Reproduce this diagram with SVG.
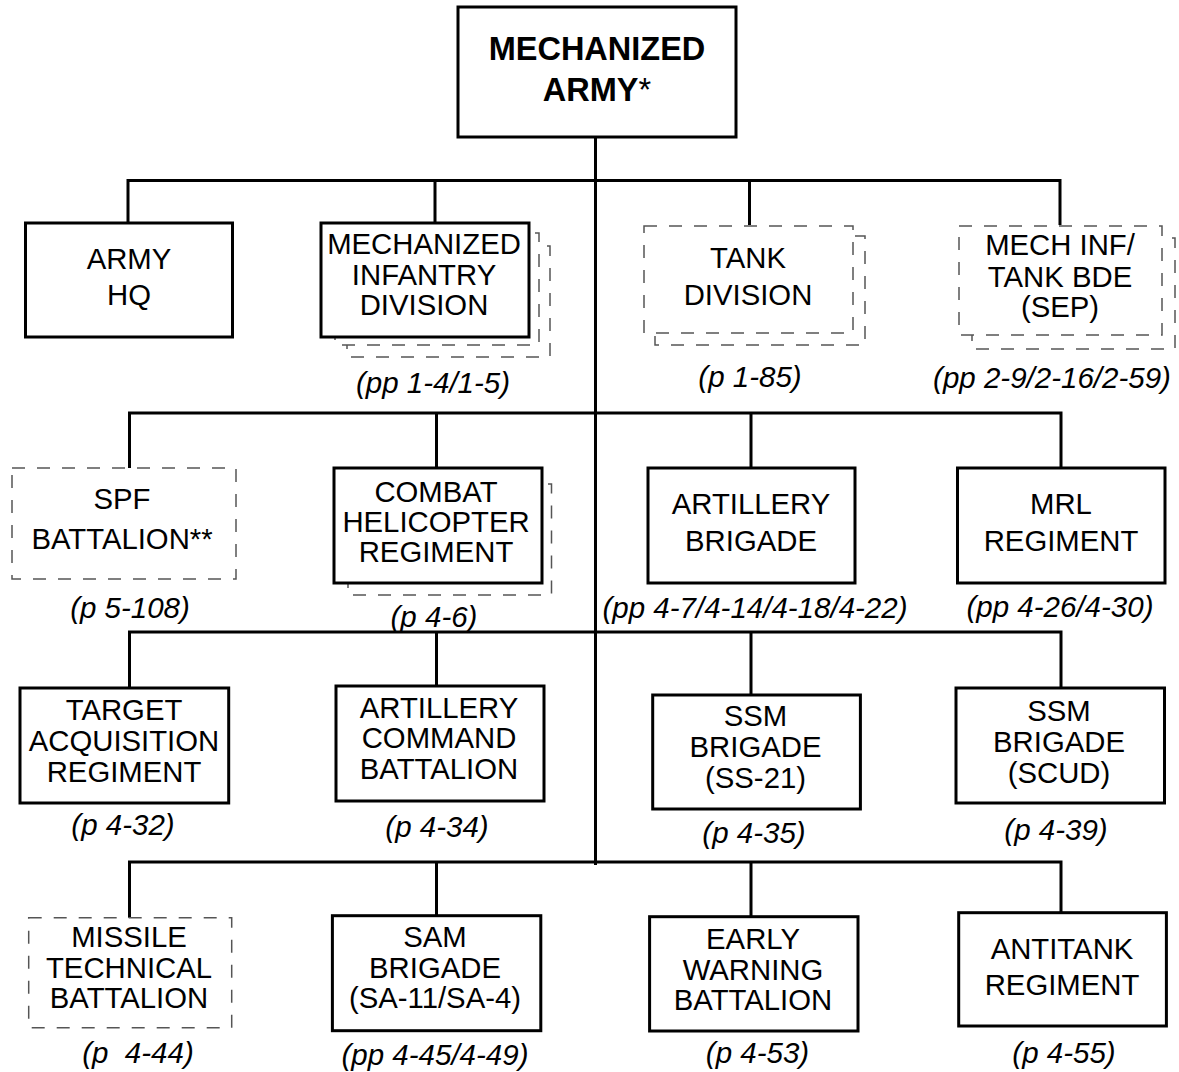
<svg xmlns="http://www.w3.org/2000/svg" width="1179" height="1072" viewBox="0 0 1179 1072">
<style>
.box{fill:#fff;stroke:#000;stroke-width:3}
.dash{fill:#fff;stroke:#555;stroke-width:1.5;stroke-dasharray:13 12}
.con{fill:none;stroke:#000;stroke-width:3}
text{font-family:"Liberation Sans",Arial,sans-serif;fill:#000;text-anchor:middle}
.t{font-size:29.3px}
.lbl{font-size:29.5px;font-style:italic;white-space:pre}
.top{font-size:32.5px;font-weight:bold}
</style>
<rect width="1179" height="1072" fill="#fff"/>
<g id="connectors">
<path class="con" d="M595.5 137V865"/>
<path class="con" d="M128 222V180.5H1060V225M435 180.5V222M749.5 180.5V225"/>
<path class="con" d="M129.5 468V413H1061V468M436.5 413V468M751 413V468"/>
<path class="con" d="M129.5 688V632H1061V688M436.5 632V686M751 632V695"/>
<path class="con" d="M129.5 918V862H1061V913M436.5 862V916M751 862V917"/>
</g>
<g id="army">
<rect class="box" x="458" y="7" width="278" height="130"/>
<text class="top" x="597" y="60">MECHANIZED</text>
<text class="top" x="597" y="101">ARMY<tspan font-weight="normal">*</tspan></text>
</g>
<g id="army-hq">
<rect class="box" x="25.5" y="223" width="207" height="114"/>
<text class="t" x="129" y="269">ARMY</text>
<text class="t" x="129" y="305">HQ</text>
</g>
<g id="mech-inf-div">
<rect class="dash" x="347" y="246" width="203" height="111"/>
<rect class="dash" x="335" y="233" width="204" height="112"/>
<rect class="box" x="321" y="223" width="208" height="114"/>
<text class="t" x="424" y="254">MECHANIZED</text>
<text class="t" x="424" y="285">INFANTRY</text>
<text class="t" x="424" y="315">DIVISION</text>
<text class="lbl" x="433" y="393">(pp 1-4/1-5)</text>
</g>
<g id="tank-div">
<rect class="dash" x="655" y="236" width="210" height="109"/>
<rect class="dash" x="644" y="226" width="209" height="107"/>
<text class="t" x="748" y="268">TANK</text>
<text class="t" x="748" y="305">DIVISION</text>
<text class="lbl" x="750" y="387">(p 1-85)</text>
</g>
<g id="mech-inf-tank-bde">
<rect class="dash" x="972" y="238" width="203" height="111"/>
<rect class="dash" x="959" y="226" width="203" height="109"/>
<text class="t" x="1060" y="255">MECH INF/</text>
<text class="t" x="1060" y="287">TANK BDE</text>
<text class="t" x="1060" y="317">(SEP)</text>
<text class="lbl" x="1052" y="388">(pp 2-9/2-16/2-59)</text>
</g>
<g id="spf-bn">
<rect class="dash" x="12" y="468" width="224" height="111"/>
<text class="t" x="122" y="509">SPF</text>
<text class="t" x="122" y="549">BATTALION**</text>
<text class="lbl" x="130" y="618">(p 5-108)</text>
</g>
<g id="combat-heli">
<rect class="dash" x="348" y="484" width="203.5" height="111"/>
<rect class="box" x="334" y="468" width="208" height="115"/>
<text class="t" x="436" y="502">COMBAT</text>
<text class="t" x="436" y="532">HELICOPTER</text>
<text class="t" x="436" y="562">REGIMENT</text>
<text class="lbl" x="434" y="627">(p 4-6)</text>
</g>
<g id="arty-bde">
<rect class="box" x="648" y="468" width="207" height="115"/>
<text class="t" x="751" y="514">ARTILLERY</text>
<text class="t" x="751" y="551">BRIGADE</text>
<text class="lbl" x="755" y="618">(pp 4-7/4-14/4-18/4-22)</text>
</g>
<g id="mrl-regt">
<rect class="box" x="957.5" y="468" width="207.5" height="115"/>
<text class="t" x="1061" y="514">MRL</text>
<text class="t" x="1061" y="551">REGIMENT</text>
<text class="lbl" x="1060" y="617">(pp 4-26/4-30)</text>
</g>
<g id="target-acq">
<rect class="box" x="20" y="688" width="208.7" height="115"/>
<text class="t" x="124" y="720">TARGET</text>
<text class="t" x="124" y="751">ACQUISITION</text>
<text class="t" x="124" y="782">REGIMENT</text>
<text class="lbl" x="123" y="835">(p 4-32)</text>
</g>
<g id="arty-cmd">
<rect class="box" x="336" y="686" width="208" height="115"/>
<text class="t" x="439" y="718">ARTILLERY</text>
<text class="t" x="439" y="748">COMMAND</text>
<text class="t" x="439" y="779">BATTALION</text>
<text class="lbl" x="437" y="837">(p 4-34)</text>
</g>
<g id="ssm-ss21">
<rect class="box" x="652.7" y="695" width="207.7" height="114"/>
<text class="t" x="755.5" y="726">SSM</text>
<text class="t" x="755.5" y="757">BRIGADE</text>
<text class="t" x="755.5" y="788">(SS-21)</text>
<text class="lbl" x="754" y="843">(p 4-35)</text>
</g>
<g id="ssm-scud">
<rect class="box" x="956" y="688" width="208.5" height="115"/>
<text class="t" x="1059" y="721">SSM</text>
<text class="t" x="1059" y="752">BRIGADE</text>
<text class="t" x="1059" y="783">(SCUD)</text>
<text class="lbl" x="1056" y="840">(p 4-39)</text>
</g>
<g id="missile-tech">
<rect class="dash" x="28.7" y="917.7" width="203" height="110"/>
<text class="t" x="129" y="947">MISSILE</text>
<text class="t" x="129" y="978">TECHNICAL</text>
<text class="t" x="129" y="1008">BATTALION</text>
<text class="lbl" x="138" y="1063" xml:space="preserve">(p  4-44)</text>
</g>
<g id="sam-bde">
<rect class="box" x="332.4" y="915.7" width="208.4" height="115"/>
<text class="t" x="435" y="947">SAM</text>
<text class="t" x="435" y="978">BRIGADE</text>
<text class="t" x="435" y="1008">(SA-11/SA-4)</text>
<text class="lbl" x="435" y="1065">(pp 4-45/4-49)</text>
</g>
<g id="early-warning">
<rect class="box" x="649.6" y="916.7" width="208.4" height="114.3"/>
<text class="t" x="753" y="949">EARLY</text>
<text class="t" x="753" y="980">WARNING</text>
<text class="t" x="753" y="1010">BATTALION</text>
<text class="lbl" x="757.5" y="1063">(p 4-53)</text>
</g>
<g id="antitank-regt">
<rect class="box" x="958.7" y="912.7" width="207.7" height="113.3"/>
<text class="t" x="1062" y="959">ANTITANK</text>
<text class="t" x="1062" y="995">REGIMENT</text>
<text class="lbl" x="1064" y="1063">(p 4-55)</text>
</g>
</svg>
